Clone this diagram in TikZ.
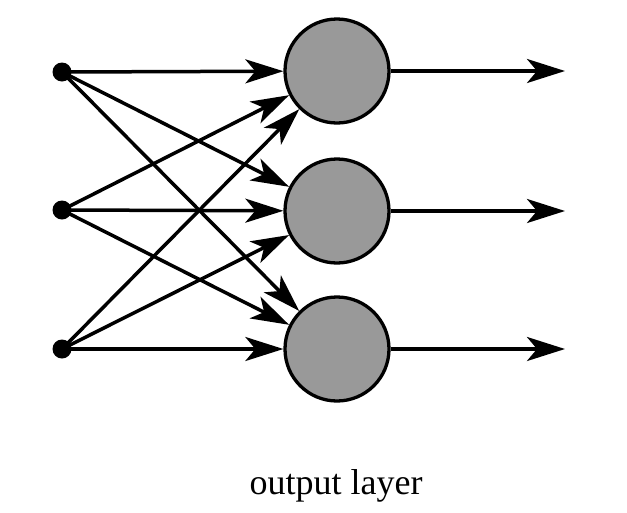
\documentclass[tikz,border=0pt]{standalone}
\usepackage{fontspec}
\setmainfont{Liberation Serif}
\usetikzlibrary{arrows.meta}
\begin{document}
\begin{tikzpicture}[x=1pt,y=-1pt,
  inputdot/.style={circle,fill=black,inner sep=0pt,minimum size=19pt},
  neuron/.style={circle,draw=black,line width=3.3pt,fill=gray!80!white,minimum size=104pt,inner sep=0pt},
  conn/.style={line width=3.5pt,-{Stealth[length=38pt,width=24pt,inset=10pt]}},
  lbl/.style={font=\fontsize{36}{40}\selectfont}]
\useasboundingbox (0,0) rectangle (627,512);
\node[inputdot] (i1) at (62,72) {};
\node[inputdot] (i2) at (62,210) {};
\node[inputdot] (i3) at (62,349) {};
\node[neuron] (o1) at (337,71) {};
\node[neuron] (o2) at (337,211) {};
\node[neuron] (o3) at (337,349) {};
\coordinate (e1) at (565,71);
\coordinate (e2) at (565,211);
\coordinate (e3) at (565,349);
\foreach \i in {1,2,3}{
  \foreach \o in {1,2,3}{
    \draw[conn] (i\i.center) -- (o\o);
  }
  \draw[conn] (o\i) -- (e\i);
}
\node[lbl] (label) at (336,486) {output layer};
\end{tikzpicture}
\end{document}
